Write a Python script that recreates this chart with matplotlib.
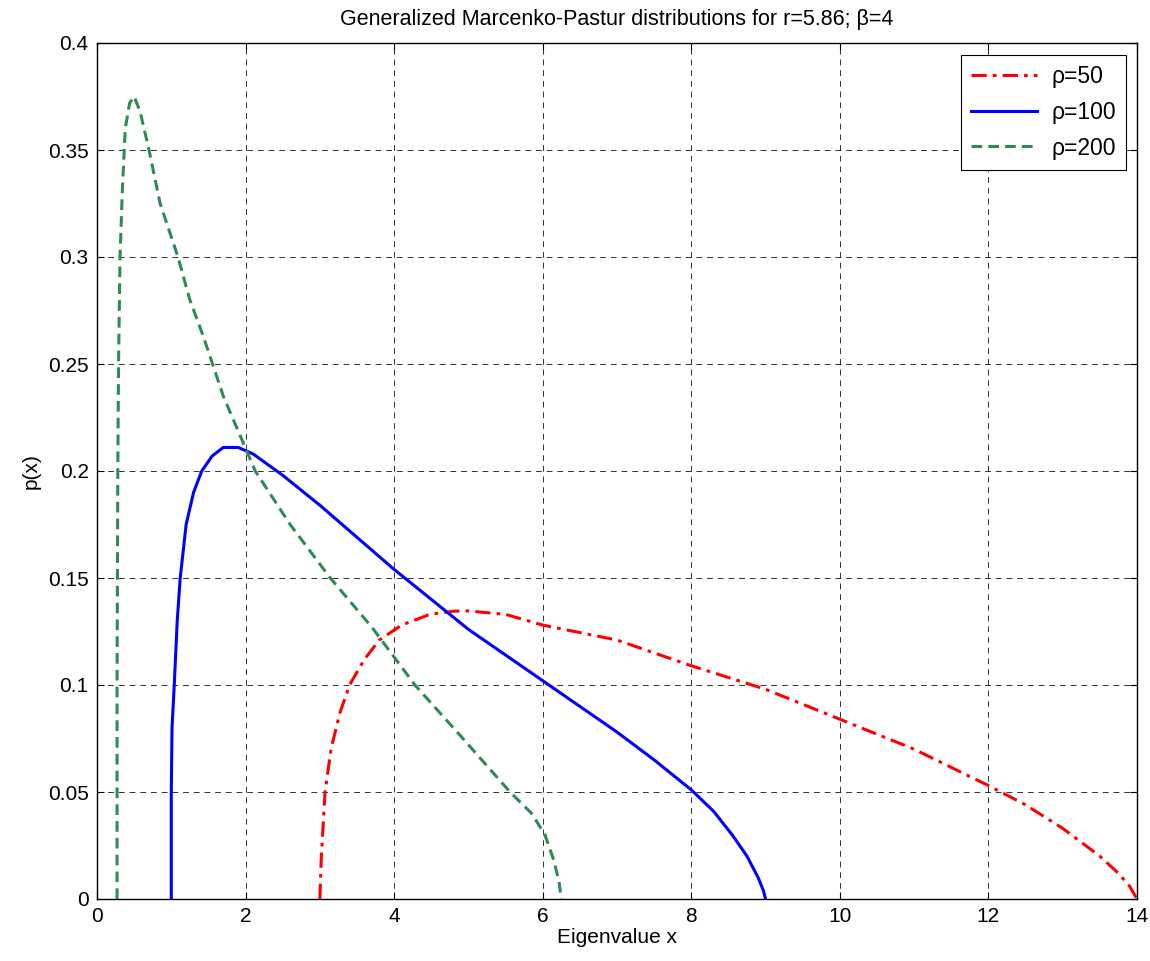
import matplotlib
matplotlib.use("Agg")
import matplotlib.pyplot as plt

plt.rcParams['font.family'] = ['Liberation Sans', 'DejaVu Sans']

title = "Generalized Marcenko-Pastur distributions for r=5.86; β=4"
xlabel = "Eigenvalue x"
ylabel = "p(x)"
labels = ["ρ=50", "ρ=100", "ρ=200"]

red_x = [3.0, 3.02, 3.07, 3.15, 3.27, 3.4, 3.6, 3.8, 4.1, 4.48, 4.8, 5.0, 5.5, 6.0, 7.0, 8.0, 9.0,
         10.0, 11.0, 12.0, 12.5, 13.0, 13.5, 13.75, 13.9, 14.0]
red_y = [0, 0.02, 0.05, 0.07, 0.087, 0.1, 0.112, 0.121, 0.128, 0.133, 0.1345, 0.1346, 0.133, 0.128,
         0.121, 0.109, 0.098, 0.084, 0.07, 0.053, 0.044, 0.033, 0.02, 0.012, 0.006, 0]

blue_x = [1.0, 1.0, 1.01, 1.04, 1.08, 1.12, 1.2, 1.3, 1.41, 1.55, 1.7, 1.9, 2.1, 2.5, 3.0, 3.5, 4.0,
          4.5, 5.0, 5.5, 6.0, 6.5, 7.0, 7.5, 8.0, 8.3, 8.55, 8.75, 8.9, 8.97, 9.0]
blue_y = [0, 0.05, 0.08, 0.1, 0.13, 0.15, 0.175, 0.19, 0.2, 0.207, 0.211, 0.211, 0.208, 0.198, 0.184,
          0.169, 0.154, 0.14, 0.126, 0.114, 0.102, 0.09, 0.078, 0.065, 0.051, 0.041, 0.03, 0.02, 0.01,
          0.004, 0]

green_x = [0.27, 0.27, 0.28, 0.29, 0.31, 0.34, 0.38, 0.44, 0.50, 0.58, 0.70, 0.85, 1.09, 1.25, 1.43,
           1.7, 2.13, 2.6, 3.14, 3.7, 4.28, 4.9, 5.56, 5.85, 6.03, 6.15, 6.22, 6.25]
green_y = [0, 0.1, 0.2, 0.25, 0.3, 0.33, 0.36, 0.372, 0.375, 0.368, 0.35, 0.325, 0.3, 0.28, 0.263,
           0.235, 0.2, 0.175, 0.15, 0.127, 0.1, 0.076, 0.05, 0.04, 0.03, 0.018, 0.008, 0]

xticks = list(range(0, 15, 2))
yticks = [0, 0.05, 0.1, 0.15, 0.2, 0.25, 0.3, 0.35, 0.4]
yticklabels = ["0", "0.05", "0.1", "0.15", "0.2", "0.25", "0.3", "0.35", "0.4"]

fig = plt.figure(figsize=(11.5, 9.61), dpi=100)
ax = fig.add_axes([97/1150, 1-899/961, (1137-97)/1150, (899-43)/961])

ax.plot(red_x, red_y, color='red', lw=2.2, linestyle=(0, (5, 2, 1.2, 2)), label=labels[0])
ax.plot(blue_x, blue_y, color='blue', lw=2.2, linestyle='-', label=labels[1])
ax.plot(green_x, green_y, color='#2e8b57', lw=2.2, linestyle=(0, (3.5, 2)), label=labels[2])

ax.set_xlim(0, 14)
ax.set_ylim(0, 0.4)
ax.set_xticks(xticks)
ax.set_yticks(yticks)
ax.set_yticklabels(yticklabels)
ax.tick_params(direction='in', labelsize=15, length=5, top=True, right=True, pad=6)
ax.grid(True, color='black', linestyle=(0, (6, 5)), linewidth=0.7, alpha=0.8)
for s in ax.spines.values():
    s.set_linewidth(1.0)

ax.set_title(title, fontsize=15.5, pad=13)
ax.set_xlabel(xlabel, fontsize=15, labelpad=1)
ax.set_ylabel(ylabel, fontsize=15, labelpad=5)

leg = ax.legend(loc='upper right', fontsize=16.5, fancybox=False, framealpha=1,
                edgecolor='black', handlelength=2.9, borderpad=0.45, labelspacing=0.55,
                handletextpad=0.6, borderaxespad=0, bbox_to_anchor=(0.9894, 0.986))
leg.get_frame().set_linewidth(0.8)

fig.savefig("out.png", dpi=100)
